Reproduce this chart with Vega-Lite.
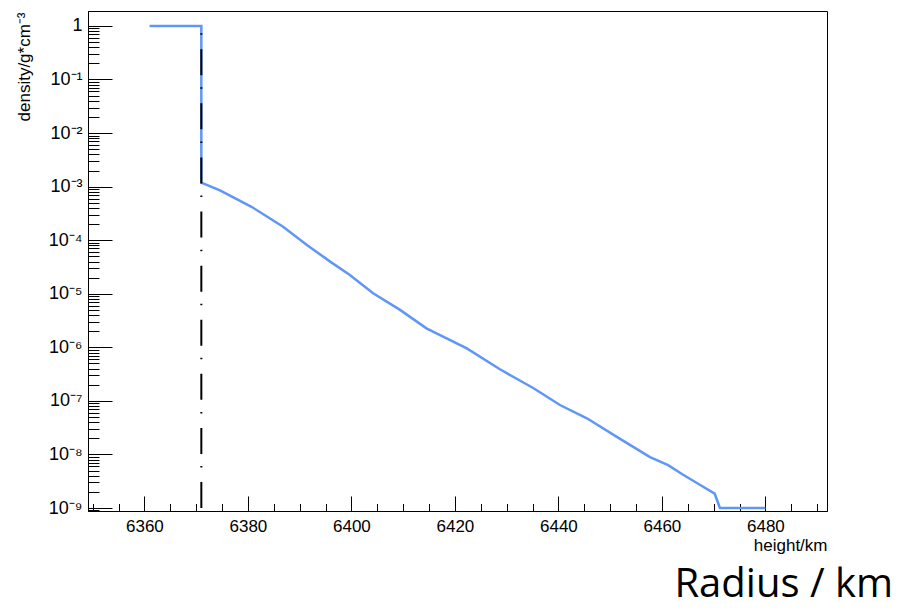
{
  "$schema": "https://vega.github.io/schema/vega-lite/v6.json",
  "width": 739,
  "height": 500,
  "autosize": {"type": "none"},
  "padding": {"left": 88, "top": 11, "right": 70, "bottom": 99},
  "background": "white",
  "title": {
    "text": "Radius / km",
    "orient": "bottom",
    "anchor": "end",
    "frame": "group",
    "font": "Open Sans",
    "fontSize": 40,
    "fontWeight": "normal",
    "color": "black",
    "baseline": "alphabetic",
    "dx": 66,
    "offset": 44
  },
  "config": {
    "view": {"stroke": "black", "strokeWidth": 1},
    "axis": {
      "grid": false,
      "domainColor": "black",
      "tickColor": "black",
      "labelColor": "black",
      "titleColor": "black",
      "labelFont": "Liberation Sans",
      "titleFont": "Liberation Sans",
      "labelFontSize": 17,
      "titleFontSize": 17,
      "titleFontWeight": "normal"
    }
  },
  "datasets": {
    "profile": [
      {"height": 6361, "density": 1},
      {"height": 6371, "density": 1},
      {"height": 6371, "density": 0.00118},
      {"height": 6374.6, "density": 0.000853},
      {"height": 6380.7, "density": 0.00042},
      {"height": 6386.8, "density": 0.000178},
      {"height": 6391.4, "density": 0.0000813},
      {"height": 6395.9, "density": 0.0000398},
      {"height": 6399.7, "density": 0.0000224},
      {"height": 6404.2, "density": 0.0000102},
      {"height": 6409.4, "density": 0.000005},
      {"height": 6414.5, "density": 0.00000226},
      {"height": 6422.3, "density": 9.55e-7},
      {"height": 6428.7, "density": 3.89e-7},
      {"height": 6435.2, "density": 1.72e-7},
      {"height": 6440.3, "density": 8.38e-8},
      {"height": 6445.5, "density": 4.73e-8},
      {"height": 6451.6, "density": 2.04e-8},
      {"height": 6457.7, "density": 8.9e-9},
      {"height": 6461.2, "density": 6.3e-9},
      {"height": 6464.1, "density": 4.17e-9},
      {"height": 6467.4, "density": 2.69e-9},
      {"height": 6470.2, "density": 1.85e-9},
      {"height": 6471.2, "density": 1e-9},
      {"height": 6480, "density": 1e-9}
    ],
    "boundary": [
      {"height": 6371, "low": 1e-9, "high": 1}
    ]
  },
  "layer": [
    {
      "data": {"name": "profile"},
      "mark": {"type": "line", "color": "#5f97f7", "strokeWidth": 2.5, "clip": true},
      "encoding": {
        "x": {
          "field": "height", "type": "quantitative",
          "scale": {"domain": [6349.1, 6491.9], "nice": false, "zero": false},
          "axis": {
            "orient": "bottom",
            "values": [6360, 6380, 6400, 6420, 6440, 6460, 6480],
            "format": "d",
            "tickSize": -15,
            "labelPadding": 22,
            "labelBaseline": "top",
            "title": "height/km",
            "titleAlign": "right",
            "titleBaseline": "alphabetic",
            "titleX": 739,
            "titleY": 39
          }
        },
        "y": {
          "field": "density", "type": "quantitative",
          "scale": {"type": "log", "domain": [8.8e-10, 1.9], "nice": false},
          "axis": {
            "orient": "left",
            "values": [1, 0.1, 0.01, 0.001, 0.0001, 0.00001, 0.000001, 1e-7, 1e-8, 1e-9],
            "labelExpr": "datum.value >= 0.5 ? '1' : '10' + ['⁻¹','⁻²','⁻³','⁻⁴','⁻⁵','⁻⁶','⁻⁷','⁻⁸','⁻⁹'][round(-log(datum.value)/LN10) - 1]",
            "labelFontSize": 18,
            "tickSize": -24,
            "labelPadding": 30,
            "title": "density/g*cm⁻³",
            "titleAngle": -90,
            "titleAlign": "right",
            "titleBaseline": "alphabetic",
            "titleX": -59,
            "titleY": 1
          }
        },
        "order": {"value": null}
      }
    },
    {
      "data": {"name": "boundary"},
      "mark": {"type": "rule", "color": "black", "strokeWidth": 2, "strokeDash": [26, 14.5, 1.5, 12.1]},
      "encoding": {
        "x": {
          "field": "height", "type": "quantitative",
          "axis": {
            "orient": "bottom",
            "values": [6350, 6355, 6365, 6370, 6375, 6385, 6390, 6395, 6405, 6410, 6415, 6425, 6430, 6435, 6445, 6450, 6455, 6465, 6470, 6475, 6485, 6490],
            "labels": false,
            "domain": false,
            "title": null,
            "tickSize": -7.5
          }
        },
        "y": {
          "field": "low", "type": "quantitative",
          "axis": {
            "orient": "left",
            "values": [0.9, 0.8, 0.7, 0.6, 0.5, 0.4, 0.3, 0.2,
                       0.09, 0.08, 0.07, 0.06, 0.05, 0.04, 0.03, 0.02,
                       0.009, 0.008, 0.007, 0.006, 0.005, 0.004, 0.003, 0.002,
                       0.0009, 0.0008, 0.0007, 0.0006, 0.0005, 0.0004, 0.0003, 0.0002,
                       0.00009, 0.00008, 0.00007, 0.00006, 0.00005, 0.00004, 0.00003, 0.00002,
                       0.000009, 0.000008, 0.000007, 0.000006, 0.000005, 0.000004, 0.000003, 0.000002,
                       9e-7, 8e-7, 7e-7, 6e-7, 5e-7, 4e-7, 3e-7, 2e-7,
                       9e-8, 8e-8, 7e-8, 6e-8, 5e-8, 4e-8, 3e-8, 2e-8,
                       9e-9, 8e-9, 7e-9, 6e-9, 5e-9, 4e-9, 3e-9, 2e-9,
                       9e-10],
            "labels": false,
            "domain": false,
            "title": null,
            "tickSize": -11
          }
        },
        "y2": {"field": "high"}
      }
    }
  ],
  "resolve": {"axis": {"x": "independent", "y": "independent"}}
}
